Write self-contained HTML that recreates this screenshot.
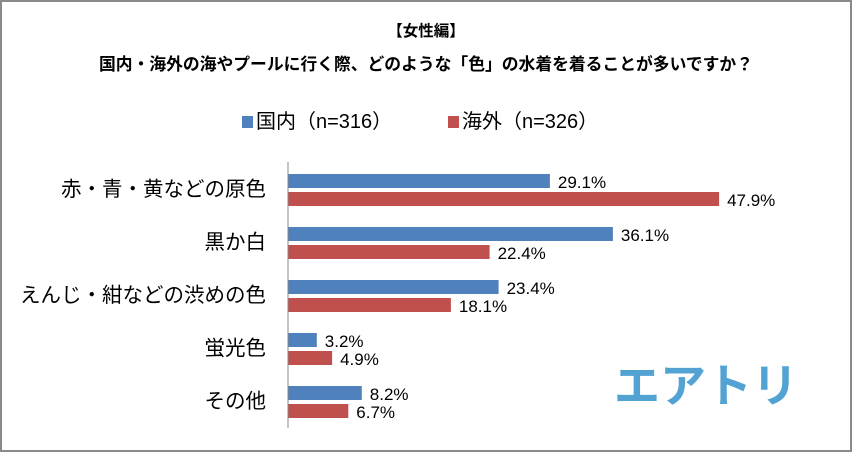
<!DOCTYPE html>
<html><head><meta charset="utf-8"><style>
body{margin:0;background:#fff;}
#wrap{position:relative;width:848px;height:448px;border:2px solid #8a8a8a;background:#fff;overflow:hidden;font-family:"Liberation Sans","Noto Sans CJK JP",sans-serif;}
.t{position:absolute;white-space:nowrap;}
</style></head><body>
<div id="wrap">
<div class="t" style="left:0;width:848px;text-align:center;top:17px;font-size:15.5px;font-weight:bold;">【女性編】</div>
<div class="t" style="left:0;width:848px;text-align:center;top:49px;font-size:16.8px;font-weight:bold;">国内・海外の海やプールに行く際、どのような「色」の水着を着ることが多いですか？</div>
<div class="t" style="left:240px;top:103px;font-size:20px;"><span style="display:inline-block;width:11px;height:12px;background:#4f81bd;margin-right:3px;"></span>国内（n=316）</div>
<div class="t" style="left:446px;top:103px;font-size:20px;"><span style="display:inline-block;width:11px;height:12px;background:#c0504d;margin-right:3px;"></span>海外（n=326）</div>
<svg id="plot" width="848" height="448" style="position:absolute;left:0;top:0"></svg>
<div class="t" style="left:612px;top:348px;font-size:46px;font-weight:bold;color:#52a3d3;letter-spacing:0px;">エアトリ</div>
</div>
<script>
const categories=["赤・青・黄などの原色","黒か白","えんじ・紺などの渋めの色","蛍光色","その他"];
const domestic=[29.1,36.1,23.4,3.2,8.2];
const overseas=[47.9,22.4,18.1,4.9,6.7];
const svg=document.getElementById('plot');
const NS="http://www.w3.org/2000/svg";
const x0=286, scale=9.0;
function xs(v){return x0+v*scale;}
function yb(i){return 172+i*53;}
function mk(tag,attrs){const e=document.createElementNS(NS,tag);for(const k in attrs)e.setAttribute(k,attrs[k]);svg.appendChild(e);return e;}
categories.forEach((c,i)=>{
  const lab=mk('text',{x:264,y:yb(i)+22,'text-anchor':'end','font-size':20.5,fill:'#000'});
  lab.textContent=c;
  
  
  [[domestic,'#4f81bd',0,'bar-domestic'],[overseas,'#c0504d',18,'bar-overseas']].forEach(([arr,col,dy,nm])=>{
    const r=mk('rect',{x:x0,y:yb(i)+dy,width:xs(arr[i])-x0,height:14,fill:col});
    
    
    const t=mk('text',{x:xs(arr[i])+8,y:yb(i)+dy+14,'font-size':17,fill:'#000'});
    t.textContent=arr[i].toFixed(1)+'%';
    
    
  });
});
const ax=mk('line',{x1:x0,y1:160,x2:x0,y2:426,stroke:'#888','stroke-width':1});


</script>
</body></html>
